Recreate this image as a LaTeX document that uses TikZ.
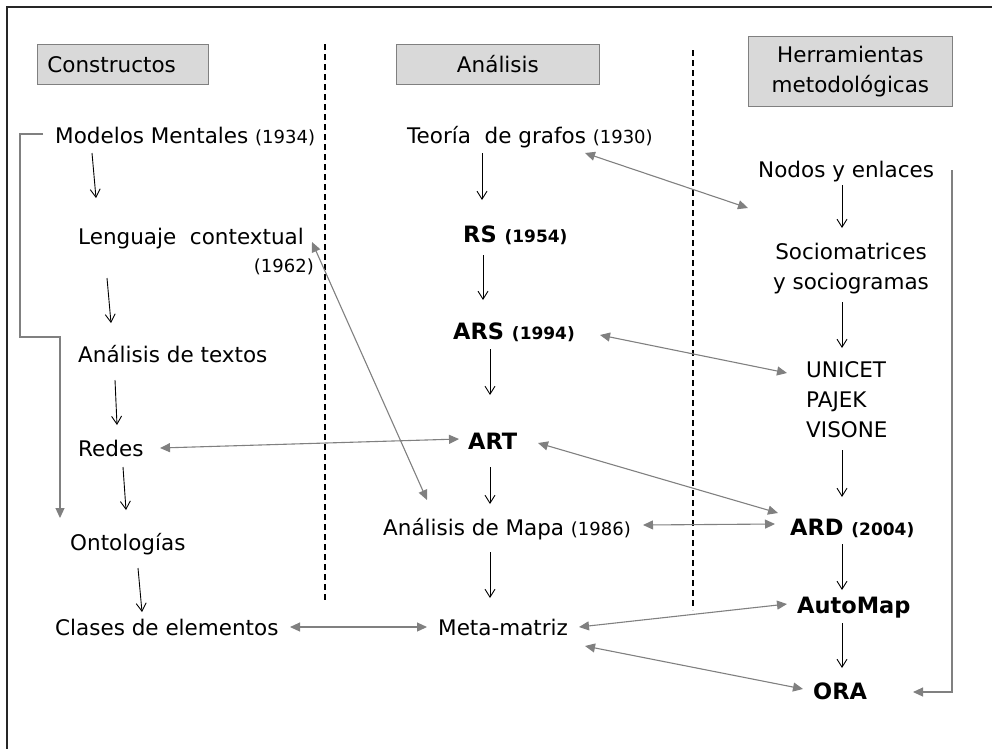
\documentclass[tikz,border=0pt]{standalone}
\usepackage{fontspec}
\setmainfont{DejaVu Sans}
\usetikzlibrary{arrows.meta}
\definecolor{arrgray}{HTML}{808080}
\definecolor{boxfill}{HTML}{D9D9D9}
\newcommand{\yrtxt}[1]{{\fontsize{18}{20}\selectfont #1}}
\newcommand{\byrtxt}[1]{{\fontsize{17}{20}\selectfont #1}}
\begin{document}
\begin{tikzpicture}[x=1pt,y=-1pt,
  lbl/.style={anchor=west, inner sep=0pt, text height=19pt, text depth=4pt, font=\fontsize{21.5}{30}\selectfont},
  blbl/.style={lbl, font=\bfseries\fontsize{22.5}{30}\selectfont},
  mlbl/.style={inner sep=0pt, font=\fontsize{21.5}{30}\selectfont},
  hdr/.style={draw=arrgray, fill=boxfill, line width=0.8pt, inner sep=0pt, font=\fontsize{21.5}{30}\selectfont},
  blk/.style={draw=black, line width=0.9pt, -{Straight Barb[length=8pt,width=10pt]}},
  gry/.style={draw=arrgray, line width=1.1pt, {Triangle[length=10pt,width=9pt]}-{Triangle[length=10pt,width=9pt]}},
  gryone/.style={draw=arrgray, line width=1.1pt, -{Triangle[length=10pt,width=9pt]}},
  sepline/.style={dash pattern=on 6pt off 4pt, line width=1.6pt}]
\useasboundingbox (0,0) rectangle (992,748);
% frame
\draw[line width=1.5pt, draw=black!85] (7,760) -- (7,7) -- (1000,7);
% separators
\coordinate (s1a) at (325,44); \coordinate (s1b) at (325,602);
\coordinate (s2a) at (693,50); \coordinate (s2b) at (693,610);
\draw[sepline] (s1a) -- (s1b);
\draw[sepline] (s2a) -- (s2b);
% headers
\node[hdr, anchor=north west, minimum width=171pt, minimum height=40pt, text width=151pt, align=left, inner xsep=10pt] (hc) at (37,44) {Constructos};
\node[hdr, anchor=north west, minimum width=203pt, minimum height=40pt] (ha) at (396,44) {Análisis};
\node[hdr, anchor=north west, minimum width=204pt, minimum height=70pt, align=center] (hh) at (748,36) {Herramientas\\metodológicas};
% left column
\node[lbl] (mm) at (55,136) {Modelos Mentales \yrtxt{(1934)}};
\node[lbl] (lc) at (78,237) {Lenguaje\ \ contextual};
\node[lbl, anchor=east, font=\fontsize{18}{20}\selectfont] (lcy) at (314,265) {(1962)};
\node[lbl] (at) at (78,355) {Análisis de textos};
\node[lbl] (rd) at (78,449) {Redes};
\node[lbl] (on) at (70,543) {Ontologías};
\node[lbl] (ce) at (55,628) {Clases de elementos};
% middle column
\node[lbl] (tg) at (407,136) {Teoría\ \ de grafos \yrtxt{(1930)}};
\node[blbl] (rs) at (463,235) {RS \byrtxt{(1954)}};
\node[blbl] (ars) at (453,332) {ARS \byrtxt{(1994)}};
\node[blbl] (art) at (468,442) {ART};
\node[lbl] (am) at (383,528) {Análisis de Mapa \yrtxt{(1986)}};
\node[lbl] (mt) at (438,628) {Meta-matriz};
% right column
\node[lbl] (ne) at (758,170) {Nodos y enlaces};
\node[mlbl, align=center] (sm) at (851,269) {Sociomatrices\\y sociogramas};
\node[mlbl, anchor=west, align=left] (un) at (806,400) {UNICET\\PAJEK\\VISONE};
\node[blbl] (ard) at (790,528) {ARD \byrtxt{(2004)}};
\node[blbl] (au) at (797,606) {AutoMap};
\node[blbl] (ora) at (813,692) {ORA};
% black arrows, left
\draw[blk] ([shift={(37,17)}]mm.west) -- ([shift={(18,-39)}]lc.west);
\draw[blk] ([shift={(29,41)}]lc.west) -- ([shift={(33,-32)}]at.west);
\draw[blk] ([shift={(37,25)}]at.west) -- ([shift={(39,-24)}]rd.west);
\draw[blk] ([shift={(45,18)}]rd.west) -- ([shift={(56,-33)}]on.west);
\draw[blk] ([shift={(68,25)}]on.west) -- ([shift={(87,-16)}]ce.west);
% black arrows, middle
\draw[blk] ([shift={(75,17)}]tg.west) -- ([shift={(19,-35)}]rs.west);
\draw[blk] ([shift={(20,20)}]rs.west) -- ([shift={(30,-32)}]ars.west);
\draw[blk] ([shift={(37,17)}]ars.west) -- ([shift={(22,-47)}]art.west);
\draw[blk] ([shift={(22,25)}]art.west) -- ([shift={(107,-24)}]am.west);
\draw[blk] ([shift={(107,24)}]am.west) -- ([shift={(52,-30)}]mt.west);
% black arrows, right
\draw[blk] ([shift={(84,15)}]ne.west) -- ([shift={(-9,-41)}]sm.center);
\draw[blk] ([shift={(-9,33)}]sm.center) -- ([shift={(36,-52)}]un.west);
\draw[blk] ([shift={(36,50)}]un.west) -- ([shift={(52,-31)}]ard.west);
\draw[blk] ([shift={(52,16)}]ard.west) -- ([shift={(45,-16)}]au.west);
\draw[blk] ([shift={(45,17)}]au.west) -- ([shift={(29,-24)}]ora.west);
% gray links
\draw[gry] ([shift={(178,17)}]tg.west) -- ([shift={(-10,38)}]ne.west);
\draw[gry] ([shift={(234,5)}]lc.west) -- ([shift={(44,-28)}]am.west);
\draw[gry] ([shift={(147,3)}]ars.west) -- ([shift={(-19,-27)}]un.west);
\draw[gry] ([shift={(82,-1)}]rd.west) -- ([shift={(-9,-3)}]art.west);
\draw[gry] ([shift={(70,1)}]art.west) -- ([shift={(-12,-15)}]ard.west);
\draw[gry] ([shift={(260,-3)}]am.west) -- ([shift={(-15,-4)}]ard.west);
\draw[gry] ([shift={(235,-1)}]ce.west) -- ([shift={(-11,-1)}]mt.west);
\draw[gry] ([shift={(141,-1)}]mt.west) -- ([shift={(-10,-2)}]au.west);
\draw[gry] ([shift={(147,18)}]mt.west) -- ([shift={(-10,-3)}]ora.west);
% brackets
\draw[gryone] ([shift={(-12,-2)}]mm.west) -- ++(-23,0) -- ++(0,203) -- ++(40,0) -- ([shift={(-10,-25)}]on.west);
\draw[gryone] ([shift={(194,0)}]ne.west) |- ([shift={(100,0)}]ora.west);
\end{tikzpicture}
\end{document}
